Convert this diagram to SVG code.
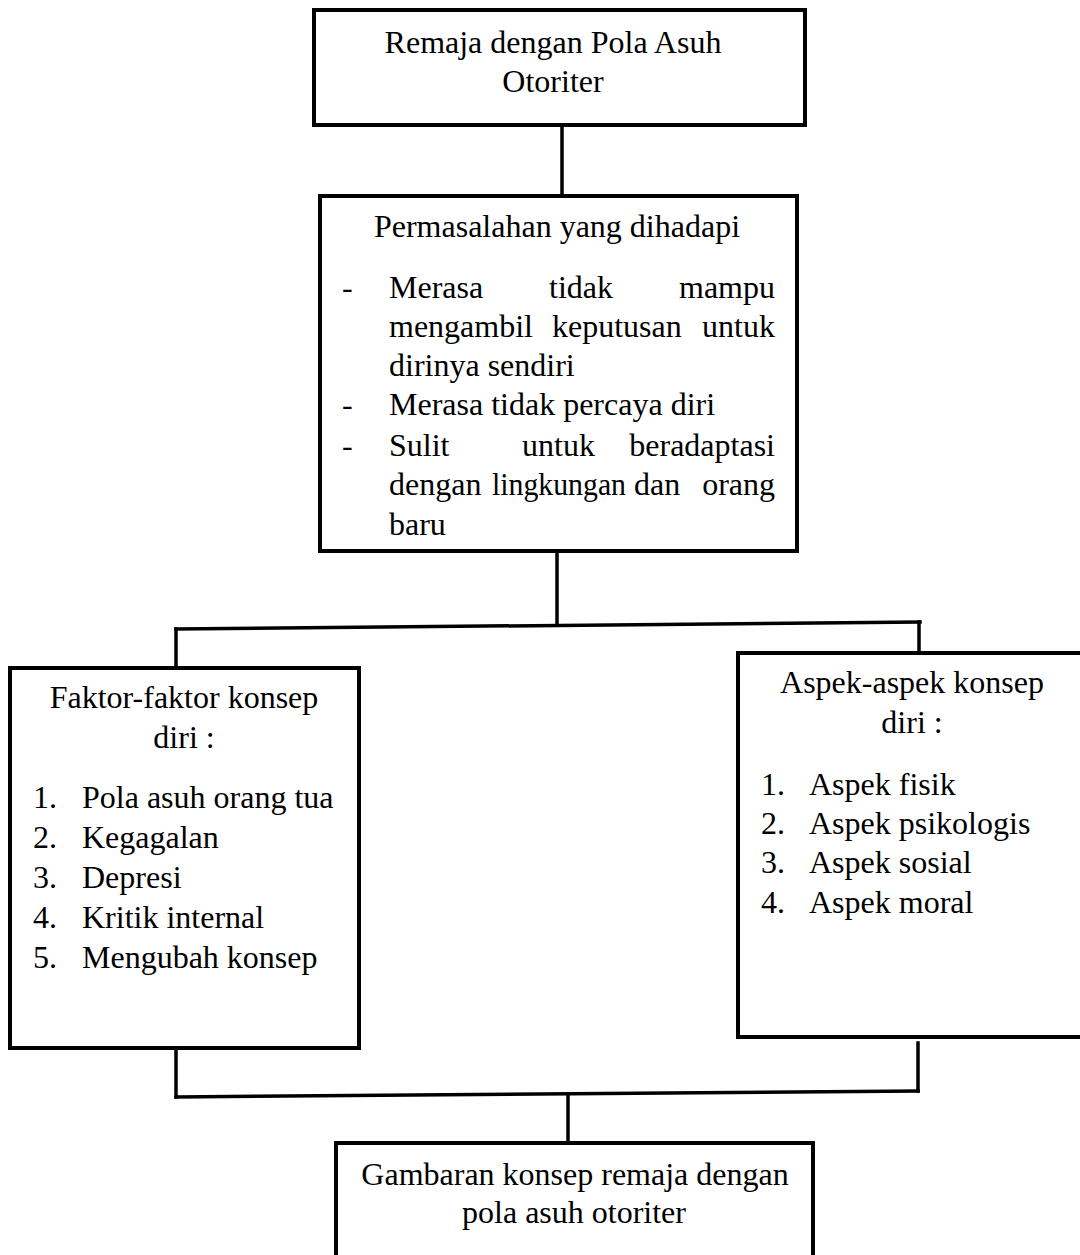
<svg xmlns="http://www.w3.org/2000/svg" width="1080" height="1255" viewBox="0 0 1080 1255">
<style>
.box{fill:#fff;stroke:#000;stroke-width:4}
.con{fill:none;stroke:#000;stroke-width:3.5;stroke-linecap:square}
text{font-family:"Liberation Serif","Times New Roman",serif;font-size:32px;fill:#000}
.c{text-anchor:middle}
.e{text-anchor:end}
</style>
<rect width="1080" height="1255" fill="#fff"/>
<g id="connectors">
<line class="con" x1="562" y1="125" x2="562" y2="196"/>
<line class="con" x1="557" y1="551" x2="557" y2="624"/>
<line class="con" x1="176" y1="629" x2="920" y2="622"/>
<line class="con" x1="176" y1="629" x2="176" y2="668"/>
<line class="con" x1="919" y1="622" x2="919" y2="653"/>
<line class="con" x1="176" y1="1048" x2="176" y2="1097"/>
<line class="con" x1="918" y1="1043" x2="918" y2="1091"/>
<line class="con" x1="176" y1="1097" x2="918" y2="1091"/>
<line class="con" x1="568" y1="1094" x2="568" y2="1143"/>
</g>
<g id="node-top">
<rect class="box" x="314" y="10" width="491" height="115"/>
<text class="c" x="553" y="53">Remaja dengan Pola Asuh</text>
<text class="c" x="553" y="92">Otoriter</text>
</g>
<g id="node-masalah">
<rect class="box" x="320" y="196" width="477" height="355"/>
<text class="c" x="557" y="237">Permasalahan yang dihadapi</text>
<text x="342" y="298">-</text>
<text x="389" y="298">Merasa</text>
<text x="549" y="298">tidak</text>
<text class="e" x="775" y="298">mampu</text>
<text x="389" y="337">mengambil</text>
<text x="552" y="337">keputusan</text>
<text class="e" x="775" y="337">untuk</text>
<text x="389" y="376">dirinya sendiri</text>
<text x="342" y="415">-</text>
<text x="389" y="415">Merasa tidak percaya diri</text>
<text x="342" y="456">-</text>
<text x="389" y="456">Sulit</text>
<text x="522" y="456">untuk</text>
<text class="e" x="775" y="456">beradaptasi</text>
<text x="389" y="495">dengan</text>
<text x="492" y="495" textLength="134" lengthAdjust="spacingAndGlyphs">lingkungan</text>
<text x="634" y="495">dan</text>
<text class="e" x="775" y="495">orang</text>
<text x="389" y="535">baru</text>
</g>
<g id="node-faktor">
<rect class="box" x="10" y="668" width="349" height="380"/>
<text class="c" x="184" y="708">Faktor-faktor konsep</text>
<text class="c" x="184" y="748">diri :</text>
<text x="33" y="808">1.</text><text x="82" y="808">Pola asuh orang tua</text>
<text x="33" y="848">2.</text><text x="82" y="848">Kegagalan</text>
<text x="33" y="888">3.</text><text x="82" y="888">Depresi</text>
<text x="33" y="928">4.</text><text x="82" y="928">Kritik internal</text>
<text x="33" y="968">5.</text><text x="82" y="968">Mengubah konsep</text>
</g>
<g id="node-aspek">
<rect class="box" x="738" y="653" width="346" height="384"/>
<text class="c" x="912" y="693">Aspek-aspek konsep</text>
<text class="c" x="912" y="733">diri :</text>
<text x="761" y="795">1.</text><text x="809" y="795">Aspek fisik</text>
<text x="761" y="834">2.</text><text x="809" y="834">Aspek psikologis</text>
<text x="761" y="873">3.</text><text x="809" y="873">Aspek sosial</text>
<text x="761" y="913">4.</text><text x="809" y="913">Aspek moral</text>
</g>
<g id="node-gambaran">
<rect class="box" x="336" y="1143" width="477" height="120"/>
<text class="c" x="575" y="1185">Gambaran konsep remaja dengan</text>
<text class="c" x="574" y="1223">pola asuh otoriter</text>
</g>
</svg>
